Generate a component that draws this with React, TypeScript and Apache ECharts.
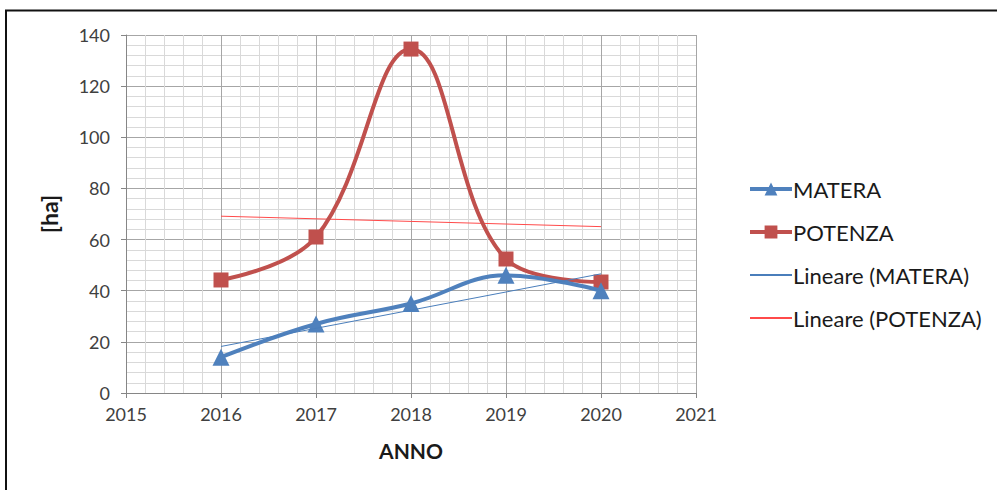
import React, { useEffect, useRef } from "react";
import * as echarts from "echarts";

const years = [2016, 2017, 2018, 2019, 2020];
const matera = [14, 27, 35, 46, 40];
const potenza = [44.2, 61, 134.5, 52.4, 43.4];
const seriesNames = ["MATERA", "POTENZA", "Lineare (MATERA)", "Lineare (POTENZA)"];
const yTicks = { min: 0, max: 140, interval: 20 };
const xTicks = { min: 2015, max: 2021, interval: 1 };

function linearFit(xs: number[], ys: number[]): number[][] {
  const n = xs.length;
  const mx = xs.reduce((a, b) => a + b, 0) / n;
  const my = ys.reduce((a, b) => a + b, 0) / n;
  let num = 0;
  let den = 0;
  for (let i = 0; i < n; i++) {
    num += (xs[i] - mx) * (ys[i] - my);
    den += (xs[i] - mx) * (xs[i] - mx);
  }
  const slope = num / den;
  const b = my - slope * mx;
  return [xs[0], xs[n - 1]].map((x) => [x, b + slope * x]);
}

const FONT = "Lato, 'Open Sans', sans-serif";

export default function App() {
  const ref = useRef<HTMLDivElement>(null);
  useEffect(() => {
    if (!ref.current) return;
    const chart = echarts.init(ref.current, undefined, { renderer: "svg" });
    const axisLabel = { color: "#404040", fontSize: 18, fontFamily: FONT };
    chart.setOption({
      animation: false,
      backgroundColor: "#ffffff",
      textStyle: { fontFamily: FONT },
      graphic: [
        { type: "line", shape: { x1: 5, y1: 10.5, x2: 997, y2: 10.5 }, style: { stroke: "#111", lineWidth: 2 } },
        { type: "line", shape: { x1: 6, y1: 10, x2: 6, y2: 490 }, style: { stroke: "#111", lineWidth: 2 } },
      ],
      grid: { left: 126, right: 301, top: 35, bottom: 97, containLabel: false },
      legend: {
        orient: "vertical",
        left: 748,
        top: 178,
        padding: 0,
        itemWidth: 42,
        itemHeight: 16,
        itemGap: 21,
        data: [
          { name: seriesNames[0], lineStyle: { width: 4 } },
          { name: seriesNames[1], lineStyle: { width: 4 } },
          { name: seriesNames[2] },
          { name: seriesNames[3] },
        ],
        textStyle: { color: "#1a1a1a", fontSize: 22, lineHeight: 20, fontFamily: FONT, padding: [0, 0, 0, -4] },
      },
      xAxis: {
        type: "value",
        min: xTicks.min,
        max: xTicks.max,
        interval: xTicks.interval,
        name: "ANNO",
        nameLocation: "middle",
        nameGap: 47,
        nameTextStyle: { color: "#1a1a1a", fontSize: 21, fontWeight: "bold", fontFamily: FONT },
        axisLine: { show: true, lineStyle: { color: "#868686", width: 1 } },
        axisTick: { show: true, length: 5, lineStyle: { color: "#868686" } },
        axisLabel: { ...axisLabel, margin: 12, formatter: (v: number) => String(v) },
        splitLine: { show: true, lineStyle: { color: "#a6a6a6", width: 1 } },
        minorTick: { show: false, splitNumber: 5 },
        minorSplitLine: { show: true, lineStyle: { color: "#d9d9d9", width: 1 } },
      },
      yAxis: {
        type: "value",
        min: yTicks.min,
        max: yTicks.max,
        interval: yTicks.interval,
        name: "[ha]",
        nameLocation: "middle",
        nameGap: 66,
        nameTextStyle: { color: "#1a1a1a", fontSize: 23, fontWeight: "bold", fontFamily: FONT },
        axisLine: { show: true, lineStyle: { color: "#868686", width: 1 } },
        axisTick: { show: true, length: 5, lineStyle: { color: "#868686" } },
        axisLabel: { ...axisLabel, margin: 16 },
        splitLine: { show: true, lineStyle: { color: "#a6a6a6", width: 1 } },
        minorTick: { show: false, splitNumber: 5 },
        minorSplitLine: { show: true, lineStyle: { color: "#d9d9d9", width: 1 } },
      },
      series: [
        {
          name: seriesNames[0],
          type: "line",
          smooth: 0.4,
          data: years.map((y, i) => [y, matera[i]]),
          symbol: "triangle",
          symbolSize: 17,
          lineStyle: { color: "#4f81bd", width: 4 },
          itemStyle: { color: "#4f81bd" },
          z: 4,
        },
        {
          name: seriesNames[1],
          type: "line",
          smooth: 0.4,
          data: years.map((y, i) => [y, potenza[i]]),
          symbol: "rect",
          symbolSize: 15,
          lineStyle: { color: "#c0504d", width: 4 },
          itemStyle: { color: "#c0504d" },
          z: 3,
        },
        {
          name: seriesNames[2],
          type: "line",
          data: linearFit(years, matera),
          symbol: "none",
          lineStyle: { color: "#4a7ebb", width: 1 },
          itemStyle: { color: "#4a7ebb", opacity: 0 },
          z: 5,
        },
        {
          name: seriesNames[3],
          type: "line",
          data: linearFit(years, potenza),
          symbol: "none",
          lineStyle: { color: "#ff4a4a", width: 1 },
          itemStyle: { color: "#ff4a4a", opacity: 0 },
          z: 2,
        },
      ],
    });
    return () => chart.dispose();
  }, []);
  return (
    <div
      ref={ref}
      style={{ position: "fixed", left: 0, top: 0, width: 997, height: 490 }}
    />
  );
}
